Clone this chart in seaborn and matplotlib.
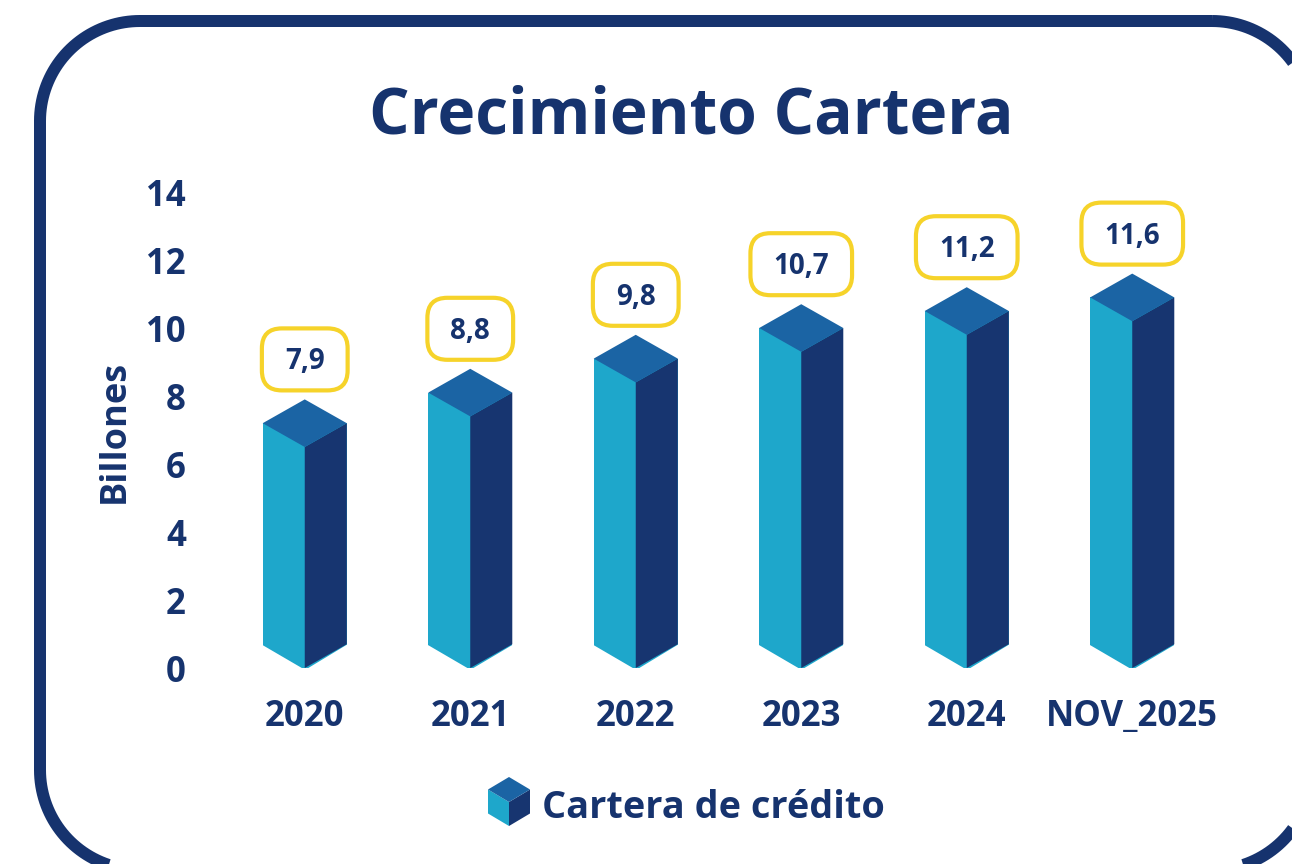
import matplotlib
matplotlib.use("Agg")
import matplotlib.pyplot as plt
import seaborn as sns
import numpy as np
from matplotlib.patches import FancyBboxPatch, Polygon
from matplotlib.transforms import IdentityTransform

# ---- data ----
categories = ["2020", "2021", "2022", "2023", "2024", "NOV_2025"]
values = [7.9, 8.8, 9.8, 10.7, 11.2, 11.6]
value_labels = ["7,9", "8,8", "9,8", "10,7", "11,2", "11,6"]
yticks = [0, 2, 4, 6, 8, 10, 12, 14]
title = "Crecimiento Cartera"
ylabel = "Billones"
legend_label = "Cartera de crédito"

# ---- style ----
NAVY = "#16336e"
LIGHT = "#1ea7cb"
DARK = "#173570"
TOP = "#1b64a4"
YELLOW = "#f6d32a"

sns.set_theme(style="white")
plt.rcParams["font.family"] = ["Open Sans", "DejaVu Sans"]
plt.rcParams["font.weight"] = "bold"

W, H = 1292, 864
fig = plt.figure(figsize=(W / 100, H / 100), dpi=100)
fig.patch.set_facecolor("white")

def fx(px):
    return px / W

def fy(py):
    return (H - py) / H

ax = fig.add_axes([fx(222), fy(668), fx(1215) - fx(222), fy(192) - fy(668)])
ax.set_facecolor("none")

hw = 0.254   # half width of prism (x units)
d = 0.70     # isometric depth (y units)

body = [v - d for v in values]
sns.barplot(x=categories, y=body, color=LIGHT, width=2 * hw, saturation=1,
            edgecolor="none", linewidth=0, ax=ax, zorder=2)

for i, v in enumerate(values):
    c = i
    lw = Polygon([(c - hw - 0.01, -0.05), (c, -0.05), (c - hw - 0.01, d)], closed=True,
                 facecolor="white", edgecolor="none", zorder=3, clip_on=False)
    rw = Polygon([(c, -0.05), (c + hw + 0.01, -0.05), (c + hw + 0.01, d)], closed=True,
                 facecolor="white", edgecolor="none", zorder=3, clip_on=False)
    right = Polygon([(c, v - 2 * d), (c + hw, v - d), (c + hw, d), (c, 0)],
                    closed=True, facecolor=DARK, edgecolor="none", zorder=4, clip_on=False)
    top = Polygon([(c, v), (c + hw, v - d), (c, v - 2 * d), (c - hw, v - d)],
                  closed=True, facecolor=TOP, edgecolor="none", zorder=4, clip_on=False)
    for p in (lw, rw, right, top):
        ax.add_patch(p)

ax.set_ylim(0, 14)
ax.set_xlim(-0.5, len(categories) - 0.5)
ax.set_yticks(yticks)
ax.set_yticklabels([str(t) for t in yticks])
ax.tick_params(axis="y", length=0, pad=26, labelsize=25, labelcolor=NAVY)
ax.tick_params(axis="x", length=0, pad=22, labelsize=25, labelcolor=NAVY)
for lab in ax.get_xticklabels() + ax.get_yticklabels():
    lab.set_fontweight("bold")
ax.set_xlabel("")
ax.set_ylabel("")
for s in ax.spines.values():
    s.set_visible(False)
ax.grid(False)

# title and y label
fig.text(fx(691), fy(133), title, ha="center", va="baseline", fontsize=46,
         fontweight="bold", color=NAVY)
fig.text(fx(115), fy(431), ylabel, ha="center", va="center", rotation=90,
         fontsize=26, fontweight="bold", color=NAVY)

# value label boxes
fig.canvas.draw()
renderer = fig.canvas.get_renderer()
fs = 20
for i, (v, lab) in enumerate(zip(values, value_labels)):
    px, py = ax.transData.transform((i, v))
    cy = py + 40
    t = ax.text(px, cy - 0.357 * fs * 100 / 72, lab, transform=IdentityTransform(),
                ha="center", va="baseline", fontsize=fs, fontweight="bold",
                color=NAVY, zorder=6)
    ext = t.get_window_extent(renderer)
    bw = ext.width + 46
    bh = 62
    box = FancyBboxPatch((px - bw / 2, cy - bh / 2), bw, bh,
                         boxstyle="round,pad=0,rounding_size=20",
                         transform=IdentityTransform(), facecolor="white",
                         edgecolor=YELLOW, linewidth=3, zorder=5, clip_on=False)
    ax.add_patch(box)
    t.set_clip_on(False)

# legend
lx, ltop, lw_, ld, lh = 509, 777, 21, 12.5, 49
def P(x, y):
    return (fx(x), fy(y))
leg_left = Polygon([P(lx - lw_, ltop + ld), P(lx, ltop + 2 * ld), P(lx, ltop + lh),
                    P(lx - lw_, ltop + lh - ld)], closed=True, transform=fig.transFigure,
                   facecolor=LIGHT, edgecolor="none")
leg_right = Polygon([P(lx, ltop + 2 * ld), P(lx + lw_, ltop + ld), P(lx + lw_, ltop + lh - ld),
                     P(lx, ltop + lh)], closed=True, transform=fig.transFigure,
                    facecolor=DARK, edgecolor="none")
leg_top = Polygon([P(lx, ltop), P(lx + lw_, ltop + ld), P(lx, ltop + 2 * ld),
                   P(lx - lw_, ltop + ld)], closed=True, transform=fig.transFigure,
                  facecolor=TOP, edgecolor="none")
for p in (leg_left, leg_right, leg_top):
    fig.patches.append(p)
fig.text(fx(542), fy(818), legend_label, ha="left", va="baseline", fontsize=27.3,
         fontweight="bold", color=NAVY)

# rounded frame as explicit polyline in pixel coordinates
r = 100
x0, x1, y0, y1 = 40, 1312, 21, 870   # image coords (y down)
pts = []
corners = [((x1 - r, y0 + r), -90, 0),    # top-right
           ((x1 - r, y1 - r), 0, 90),     # bottom-right
           ((x0 + r, y1 - r), 90, 180),   # bottom-left
           ((x0 + r, y0 + r), 180, 270)]  # top-left
for (cx, cy_), a0, a1 in corners:
    ang = np.radians(np.linspace(a0, a1, 40))
    for a in ang:
        pts.append((cx + r * np.cos(a), H - (cy_ + r * np.sin(a))))
frame = Polygon(pts, closed=True, transform=IdentityTransform(), facecolor="none",
                edgecolor=NAVY, linewidth=12 * 72 / 100, joinstyle="round")
fig.patches.append(frame)

fig.savefig("out.png", dpi=100, facecolor="white")
